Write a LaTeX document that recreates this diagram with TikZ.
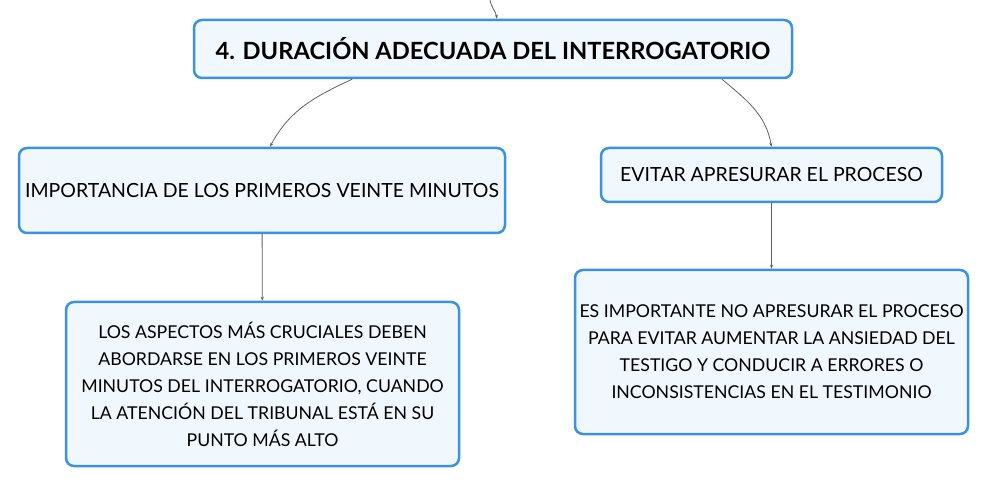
\documentclass[tikz,border=0pt]{standalone}
\usepackage{fontspec}
\setmainfont{Lato}
\usetikzlibrary{arrows.meta}
\definecolor{boxline}{RGB}{58,146,226}
\definecolor{boxfill}{RGB}{240,247,253}
\definecolor{linkgray}{RGB}{95,95,95}
\begin{document}
\begin{tikzpicture}[x=1pt,y=-1pt,line join=round,line cap=round,>={Stealth[length=4pt,width=3pt]},
  mapbox/.style={draw=boxline,fill=boxfill,line width=2.5pt,rounded corners=8pt,align=center,inner sep=0pt,font=\fontsize{17.7}{27}\selectfont},
  headbox/.style={mapbox,font=\fontsize{19.5}{24}\selectfont},
  link/.style={draw=linkgray,line width=0.8pt,->}]
  \useasboundingbox (0,0) rectangle (988,486);
  \node[mapbox,minimum width=598,minimum height=58,font=\fontsize{23.7}{28}\selectfont\bfseries] (title) at (493,49) {4. DURACIÓN ADECUADA DEL INTERROGATORIO};
  \node[headbox,minimum width=486,minimum height=85] (imp) at (262,190.5) {IMPORTANCIA DE LOS PRIMEROS VEINTE MINUTOS};
  \node[headbox,minimum width=341,minimum height=54] (evitar) at (771.5,175) {EVITAR APRESURAR EL PROCESO};
  \node[mapbox,minimum width=393,minimum height=164] (aspectos) at (262.5,384) {LOS ASPECTOS MÁS CRUCIALES DEBEN\\ABORDARSE EN LOS PRIMEROS VEINTE\\MINUTOS DEL INTERROGATORIO, CUANDO\\LA ATENCIÓN DEL TRIBUNAL ESTÁ EN SU\\PUNTO MÁS ALTO};
  \node[mapbox,minimum width=393,minimum height=164] (noapres) at (771.5,352) {ES IMPORTANTE NO APRESURAR EL PROCESO\\PARA EVITAR AUMENTAR LA ANSIEDAD DEL\\TESTIGO Y CONDUCIR A ERRORES O\\INCONSISTENCIAS EN EL TESTIMONIO};
  \coordinate (up) at (490,0);
  \draw[link] (up) to[out=-80,in=100] ([xshift=4pt]title.north);
  \draw[link] ([xshift=-141pt]title.south) to[out=205,in=62] ([xshift=8pt]imp.north);
  \draw[link] ([xshift=229pt]title.south) to[out=-40,in=100] (evitar.north);
  \draw[link] (imp) -- (aspectos);
  \draw[link] (evitar) -- (noapres);
\end{tikzpicture}
\end{document}
